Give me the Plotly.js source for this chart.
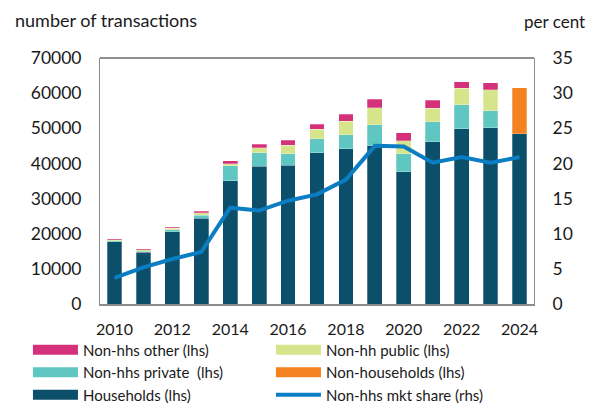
<!DOCTYPE html>
<html>
<head>
<meta charset="utf-8">
<script src="https://cdn.plot.ly/plotly-3.0.1.min.js"></script>
<style>
html,body{margin:0;padding:0;background:#fff;}
#chart{width:593px;height:405px;}
</style>
</head>
<body>
<div id="chart"></div>
<script>
const years = [2010,2011,2012,2013,2014,2015,2016,2017,2018,2019,2020,2021,2022,2023,2024];
const households    = [17700,14700,20600,24400,35100,39200,39550,43050,44200,45050,37650,46200,49800,50150,48450];
const nonhhPrivate  = [300,300,500,850,4200,3850,3200,4000,4000,5900,5100,5700,6900,4850,null];
const nonhhPublic   = [350,450,500,650,550,1350,2400,2650,3800,4850,3700,3800,4700,6000,null];
const nonhhOther    = [250,300,300,550,850,1050,1400,1500,2000,2500,2300,2350,1900,1900,null];
const nonHouseholds = [null,null,null,null,null,null,null,null,null,null,null,null,null,null,13100];
const mktShare      = [3.7,5.2,6.4,7.4,13.7,13.3,14.7,15.6,17.7,22.5,22.4,20.1,20.9,20.1,20.9];
const leftTicks  = [0,10000,20000,30000,40000,50000,60000,70000];
const rightTicks = [0,5,10,15,20,25,30,35];
const xTicks = [2010,2012,2014,2016,2018,2020,2022,2024];

const C = {
  hh:'#0b4f6b', priv:'#5fc6c2', pub:'#d6e48c', other:'#d5317b', nonhh:'#f58220', line:'#0b7dc3'
};
const FONT = 'Lato, "Open Sans", sans-serif';
const edge = {color:'rgba(255,255,255,0.45)', width:0.6};

function bar(name, y, color){
  return {type:'bar', x:years, y:y, name:name, marker:{color:color, line:edge},
          showlegend:false, hoverinfo:'x+y+name'};
}
function legendItem(name, color, rank){
  return {type:'scatter', mode:'lines', x:[null], y:[null], name:name,
          line:{color:color, width:10}, legendrank:rank, hoverinfo:'skip'};
}

const data = [
  bar('Households (lhs)', households, C.hh),
  bar('Non-hhs private  (lhs)', nonhhPrivate, C.priv),
  bar('Non-hh public (lhs)', nonhhPublic, C.pub),
  bar('Non-hhs other (lhs)', nonhhOther, C.other),
  bar('Non-households (lhs)', nonHouseholds, C.nonhh),
  legendItem('Non-hhs other (lhs)', C.other, 1),
  legendItem('Non-hh public (lhs)', C.pub, 2),
  legendItem('Non-hhs private  (lhs)', C.priv, 3),
  legendItem('Non-households (lhs)', C.nonhh, 4),
  legendItem('Households (lhs)', C.hh, 5),
  {type:'scatter', mode:'lines', x:years, y:mktShare, yaxis:'y2', name:'Non-hhs mkt share (rhs)',
   line:{color:C.line, width:4}, legendrank:6}
];

const layout = {
  width:593, height:405,
  margin:{l:100, r:59, t:58, b:101, autoexpand:false},
  paper_bgcolor:'#fff', plot_bgcolor:'#fff',
  font:{family:FONT, color:'#1a1a1a', size:16},
  barmode:'stack', bargap:0.49,
  showlegend:true,
  legend:{orientation:'h', traceorder:'normal', xref:'paper', yref:'paper',
          x:-0.166, xanchor:'left', y:-0.120, yanchor:'top',
          entrywidth:183, entrywidthmode:'pixels', itemwidth:45,
          font:{family:FONT, size:15, color:'#1a1a1a'}, tracegroupgap:0,
          bgcolor:'rgba(0,0,0,0)'},
  xaxis:{range:[2009.5,2024.5], tickmode:'array', tickvals:xTicks, ticktext:xTicks.map(String),
         showgrid:false, zeroline:false, showline:true, linecolor:'#8c8c8c', linewidth:1.5,
         ticks:'', ticklabelstandoff:10, tickfont:{size:16}},
  yaxis:{range:[0,70000], tickmode:'array', tickvals:leftTicks, ticktext:leftTicks.map(String),
         showgrid:false, zeroline:false, showline:true, linecolor:'#8c8c8c', linewidth:1,
         ticks:'', ticklabelstandoff:14, tickfont:{size:17.5}},
  yaxis2:{range:[0,35], overlaying:'y', side:'right', tickmode:'array', tickvals:rightTicks,
          ticktext:rightTicks.map(String), showgrid:false, zeroline:false, showline:true,
          linecolor:'#8c8c8c', linewidth:1, ticks:'', ticklabelstandoff:14, tickfont:{size:17.5}},
  shapes:[{type:'line', xref:'paper', yref:'paper', x0:0, x1:1, y0:1, y1:1,
           line:{color:'#222', width:1}}],
  annotations:[
    {text:'number of transactions', xref:'paper', yref:'paper', x:-0.2, y:1.155,
     xanchor:'left', yanchor:'middle', showarrow:false, font:{size:18, family:FONT, color:'#1a1a1a'}},
    {text:'per cent', xref:'paper', yref:'paper', x:1.122, y:1.147,
     xanchor:'right', yanchor:'middle', showarrow:false, font:{size:17, family:FONT, color:'#1a1a1a'}}
  ]
};

Plotly.newPlot('chart', data, layout, {displayModeBar:false, staticPlot:true});
</script>
</body>
</html>
